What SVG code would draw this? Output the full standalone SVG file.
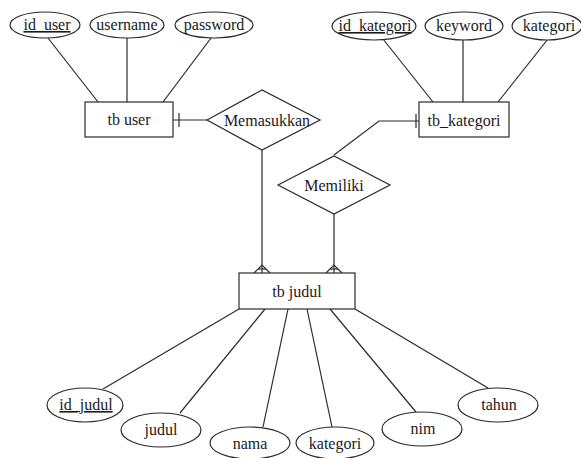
<svg xmlns="http://www.w3.org/2000/svg" width="581" height="458" viewBox="0 0 581 458">
<style>
.s{fill:none;stroke:#2b2b2b;stroke-width:1.2}
.b{fill:#fff;stroke:#2b2b2b;stroke-width:1.2}
text{font-size:16px;fill:#1a1a1a;text-anchor:middle}
.u{text-decoration:underline}
</style>
<rect width="581" height="458" fill="#fff"/>
<g id="connectors" class="s">
<line x1="48" y1="38" x2="98" y2="102"/>
<line x1="127" y1="38" x2="127" y2="102"/>
<line x1="211" y1="38" x2="163" y2="102"/>
<line x1="383" y1="39" x2="433" y2="102"/>
<line x1="463" y1="39" x2="463" y2="102"/>
<line x1="548" y1="39" x2="498" y2="102"/>
<line x1="173" y1="120" x2="207" y2="120"/>
<line x1="179" y1="113" x2="179" y2="127"/>
<line x1="262" y1="150" x2="262" y2="273"/>
<polyline points="254,273 262,265 270,273"/>
<line x1="258" y1="269" x2="266" y2="269"/>
<polyline points="419,121 379,121 334,155"/>
<line x1="416" y1="114" x2="416" y2="128"/>
<line x1="334" y1="214" x2="334" y2="273"/>
<polyline points="326,273 334,265 342,273"/>
<line x1="330" y1="269" x2="338" y2="269"/>
<line x1="239" y1="309" x2="103" y2="389"/>
<line x1="265" y1="309" x2="180" y2="413"/>
<line x1="288" y1="309" x2="263" y2="427"/>
<line x1="307" y1="309" x2="332" y2="427"/>
<line x1="330" y1="309" x2="416" y2="412"/>
<line x1="355" y1="309" x2="488" y2="388"/>
</g>
<g font-family="'Liberation Serif', serif">
<g id="id_user"><ellipse class="b" cx="45" cy="25" rx="35" ry="13"/><text class="u" x="47" y="30">id_user</text></g>
<g id="username"><ellipse class="b" cx="127" cy="25" rx="37" ry="13"/><text x="127" y="30">username</text></g>
<g id="password"><ellipse class="b" cx="214" cy="25" rx="39" ry="13"/><text x="214" y="30">password</text></g>
<g id="tb_user"><rect class="b" x="85" y="102" width="88" height="35"/><text x="129" y="125">tb user</text></g>
<g id="memasukkan"><polygon class="b" points="207,120 262,90 320,120 262,150"/><text x="267" y="126">Memasukkan</text></g>
<g id="id_kategori"><ellipse class="b" cx="374" cy="26" rx="42" ry="14"/><text class="u" x="375" y="31">id_kategori</text></g>
<g id="keyword"><ellipse class="b" cx="464" cy="26" rx="39" ry="14"/><text x="464" y="31">keyword</text></g>
<g id="kategori1"><ellipse class="b" cx="547" cy="26" rx="35" ry="14"/><text x="549" y="31">kategori</text></g>
<g id="tb_kategori"><rect class="b" x="419" y="102" width="90" height="35"/><text x="464" y="126">tb_kategori</text></g>
<g id="memiliki"><polygon class="b" points="278,185 334,156 390,185 334,214"/><text x="334" y="191">Memiliki</text></g>
<g id="tb_judul"><rect class="b" x="239" y="273" width="116" height="36"/><text x="297" y="297">tb judul</text></g>
<g id="id_judul"><ellipse class="b" cx="85" cy="405" rx="38" ry="17"/><text class="u" x="86" y="410">id_judul</text></g>
<g id="judul"><ellipse class="b" cx="161" cy="430" rx="40" ry="17"/><text x="161" y="435">judul</text></g>
<g id="nama"><ellipse class="b" cx="250" cy="443" rx="40" ry="16"/><text x="250" y="449">nama</text></g>
<g id="kategori2"><ellipse class="b" cx="335" cy="443" rx="39" ry="16"/><text x="335" y="449">kategori</text></g>
<g id="nim"><ellipse class="b" cx="422" cy="429" rx="40" ry="17"/><text x="423" y="434">nim</text></g>
<g id="tahun"><ellipse class="b" cx="498" cy="405" rx="40" ry="17"/><text x="499" y="410">tahun</text></g>
</g>
</svg>
